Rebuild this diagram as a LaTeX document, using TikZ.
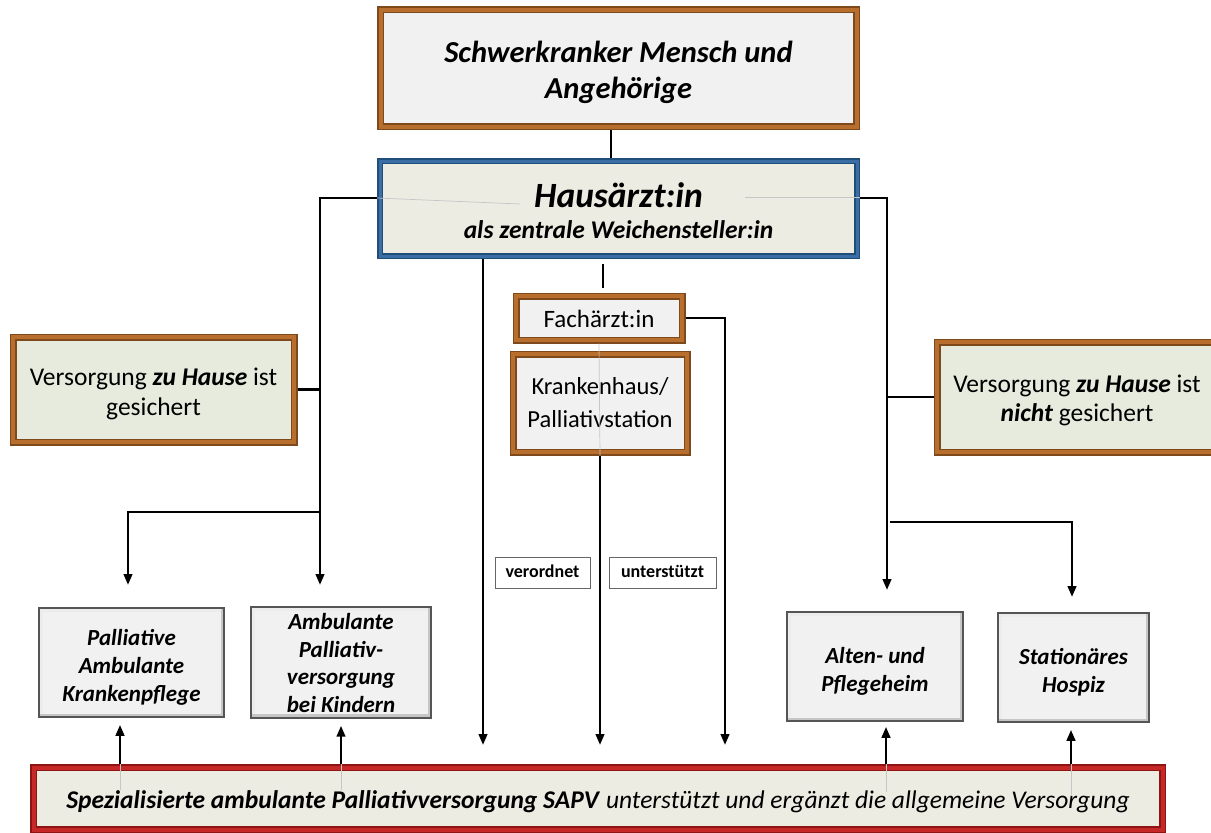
\documentclass[tikz,border=0pt]{standalone}
\usepackage{fontspec}
\setmainfont{Carlito}
\usetikzlibrary{arrows.meta}
\definecolor{brdark}{HTML}{7E4A1C}
\definecolor{brmain}{HTML}{B86E2C}
\definecolor{bldark}{HTML}{1F4E79}
\definecolor{blmain}{HTML}{3A6EA5}
\definecolor{rddark}{HTML}{8E1414}
\definecolor{rdmain}{HTML}{C62828}
\definecolor{fillgray}{HTML}{F0F1F0}
\definecolor{fillbeige}{HTML}{ECECE2}
\definecolor{fillgreen}{HTML}{E7EBDE}
\definecolor{graybd}{HTML}{555555}
\newcommand{\lowr}[2]{\raisebox{-#1}[\height][\depth]{\begin{tabular}{@{}c@{}}#2\end{tabular}}}
\tikzset{
  box/.style={inner sep=0pt, align=center},
  brownbox/.style={box, draw=brdark, line width=7pt, postaction={draw=brmain, line width=4pt}},
  bluebox/.style={box, draw=bldark, line width=6pt, fill=fillbeige, postaction={draw=blmain, line width=3pt}},
  redbox/.style={box, draw=rddark, line width=7pt, fill=fillbeige, postaction={draw=rdmain, line width=4pt}},
  graybox/.style={box, draw=graybd, line width=1.6pt, fill=fillgray,
    path picture={
      \draw[line width=7pt, white!85!gray] (path picture bounding box.south west) -- (path picture bounding box.north west) -- (path picture bounding box.north east);
      \draw[line width=7pt, gray!45] (path picture bounding box.north east) -- (path picture bounding box.south east) -- (path picture bounding box.south west);
    }},
  labelbox/.style={box, draw=gray!80!black, line width=0.9pt, fill=white},
  conn/.style={line width=2.6pt, black},
  arr/.style={conn, -{Triangle[length=11pt,width=8.5pt]}},
  faint/.style={line width=0.7pt, gray!45}
}
\begin{document}
\begin{tikzpicture}[x=1pt,y=-1pt]
\useasboundingbox (0,0) rectangle (1211,833);
% nodes
\node[brownbox, fill=fillgray, minimum width=476pt, minimum height=117pt,
  font=\fontsize{30.5}{36}\selectfont\bfseries\itshape] (top) at (618.5,68)
  {\lowr{5pt}{Schwerkranker Mensch und\\Angehörige}};
\node[bluebox, minimum width=477pt, minimum height=95pt,
  font=\fontsize{25.5}{31}\selectfont\bfseries\itshape] (haus) at (618.5,208.5)
  {\lowr{7pt}{{\fontsize{35.5}{31}\selectfont Hausärzt:in}\\als zentrale Weichensteller:in}};
\node[brownbox, fill=fillgray, minimum width=166pt, minimum height=44pt,
  font=\fontsize{25}{28}\selectfont] (fach) at (599,318) {\lowr{4pt}{Fachärzt:in}};
\node[brownbox, fill=fillgray, minimum width=174pt, minimum height=98pt,
  font=\fontsize{24.5}{33}\selectfont] (kh) at (600,403) {\lowr{1pt}{Krankenhaus/\\Palliativstation}};
\node[brownbox, fill=fillgreen, minimum width=281pt, minimum height=105pt,
  font=\fontsize{25.5}{30}\selectfont] (lv) at (153.5,389.5)
  {\lowr{5pt}{Versorgung \textbf{\textit{zu Hause}} ist\\gesichert}};
\node[brownbox, fill=fillgreen, minimum width=280pt, minimum height=110pt,
  font=\fontsize{25.5}{29}\selectfont] (rv) at (1077,397)
  {\lowr{4pt}{Versorgung \textbf{\textit{zu Hause}} ist\\\textbf{\textit{nicht}} gesichert}};
\node[graybox, minimum width=185pt, minimum height=109pt,
  font=\fontsize{23}{28}\selectfont\bfseries\itshape] (b1) at (131.5,662.5)
  {\lowr{5pt}{Palliative\\Ambulante\\Krankenpflege}};
\node[graybox, minimum width=180pt, minimum height=109pt,
  font=\fontsize{23}{27.7}\selectfont\bfseries\itshape] (b2) at (341,662.5)
  {\lowr{3pt}{Ambulante\\Palliativ-\\versorgung\\bei Kindern}};
\node[graybox, minimum width=176pt, minimum height=109pt,
  font=\fontsize{23}{28}\selectfont\bfseries\itshape] (b3) at (875,666.5)
  {\lowr{5pt}{Alten- und\\Pflegeheim}};
\node[graybox, minimum width=151pt, minimum height=109pt,
  font=\fontsize{23}{28}\selectfont\bfseries\itshape] (b4) at (1073.5,667.5)
  {\lowr{5pt}{Stationäres\\Hospiz}};
\node[redbox, minimum width=1129pt, minimum height=62pt,
  font=\fontsize{25.5}{30}\selectfont] (sapv) at (598,798.5)
  {\lowr{4pt}{\textbf{\textit{Spezialisierte ambulante Palliativversorgung SAPV}} \textit{unterstützt und ergänzt die allgemeine Versorgung}}};
\node[labelbox, minimum width=95pt, minimum height=31pt,
  font=\fontsize{18}{20}\selectfont\bfseries] (verord) at (542.5,572.5) {\lowr{1pt}{verordnet}};
\node[labelbox, minimum width=107pt, minimum height=31pt,
  font=\fontsize{18}{20}\selectfont\bfseries] (unterst) at (662.5,572.5) {\lowr{1pt}{unterstützt}};
% helper coordinates
\coordinate (x611) at (611,0);
\coordinate (x603) at (603,0);
\coordinate (L) at (320,198);
\coordinate (LB) at (320,512);
\coordinate (a1) at (128,585);
\coordinate (a2) at (320,585);
\coordinate (R) at (887,198);
\coordinate (RB) at (890,522);
\coordinate (a4) at (887,590);
\coordinate (a5) at (1072,597);
\coordinate (a6) at (483,745);
\coordinate (a7) at (725,745);
\coordinate (a8) at (600,745);
\coordinate (u1) at (120,0);
\coordinate (u2) at (341,0);
\coordinate (u3) at (886,0);
\coordinate (u4) at (1071,0);
\coordinate (f1) at (120,790);
\coordinate (f2) at (341,790);
\coordinate (f3) at (886,792);
\coordinate (f4) at (1071,795);
\coordinate (hf1) at (520,204);
\coordinate (hf2) at (745,197);
% faint guide lines (as in the reference)
\draw[faint] (fach.south) -- (kh.south);
\draw[faint] (sapv.north -| u1) -- (f1);
\draw[faint] (sapv.north -| u2) -- (f2);
\draw[faint] (sapv.north -| u3) -- (f3);
\draw[faint] (sapv.north -| u4) -- (f4);
\draw[faint] (haus.west |- L) -- (hf1);
\draw[faint] (hf2) -- (haus.east |- hf2);
% connectors
\draw[line width=1.6pt] (top.south -| x611) -- (haus.north -| x611);
\draw[line width=1.6pt, shorten <=5pt, shorten >=5pt] (haus.south -| x603) -- (fach.north -| x603);
\draw[arr] (haus.west |- L) -- (L) -- (a2);
\draw[arr] (LB) -| (a1);
\draw[conn] (lv.east) -- (lv.east -| L);
\draw[arr] (haus.east |- R) -- (R) -- (a4);
\draw[arr] (RB) -| (a5);
\draw[conn] (rv.west) -- (rv.west -| R);
\draw[arr] (haus.south -| a6) -- (a6);
\draw[arr] (fach.east) -| (a7);
\draw[arr] (kh.south) -- (a8);
\draw[arr, shorten >=7pt] (sapv.north -| u1) -- (b1.south -| u1);
\draw[arr, shorten >=7pt] (sapv.north -| u2) -- (b2.south -| u2);
\draw[arr, shorten >=5pt] (sapv.north -| u3) -- (b3.south -| u3);
\draw[arr, shorten >=7pt] (sapv.north -| u4) -- (b4.south -| u4);
\end{tikzpicture}
\end{document}
